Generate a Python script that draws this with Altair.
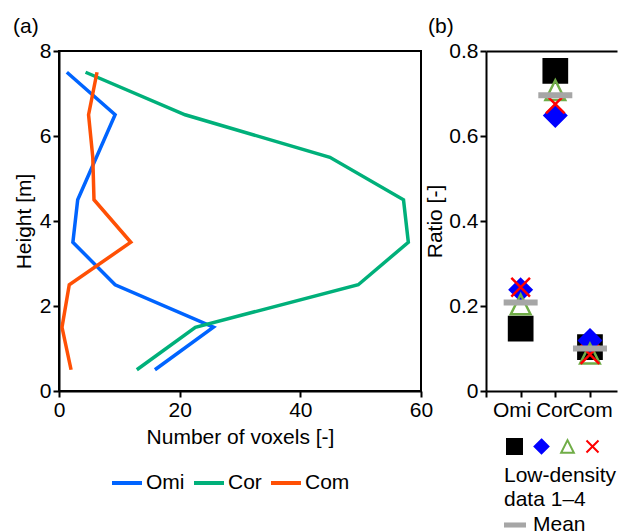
import altair as alt
import pandas as pd

# ---------------- panel (a): vertical profiles ----------------
heights = [0.5, 1.5, 2.5, 3.5, 4.5, 5.5, 6.5, 7.5]
omi_voxels = [15.9, 25.6, 9.3, 2.3, 3.1, 6.2, 9.3, 1.3]
cor_voxels = [12.9, 22.6, 49.6, 57.9, 57.1, 44.9, 20.9, 4.4]
com_voxels = [2.0, 0.5, 1.7, 11.9, 5.8, 5.6, 4.9, 6.3]
series_names = ["Omi", "Cor", "Com"]
series_colors = ["#0064FF", "#00B07A", "#FF5005"]

# ---------------- panel (b): ratios ----------------
categories = ["Omi", "Cor", "Com"]
category_label_shift = [-9, -3, 0]
data1 = [0.147, 0.753, 0.103]
data2 = [0.238, 0.648, 0.119]
data3 = [0.204, 0.708, 0.088]
data4 = [0.244, 0.675, 0.086]
mean_ratio = [0.208, 0.696, 0.100]
set_names = ["1", "2", "3", "4"]
set_shapes = [
    "M-1.06,-1.06H1.06V1.06H-1.06Z",
    "M0,-0.98L0.98,0L0,0.98L-0.98,0Z",
    "M0,-0.9L0.9,0.9L-0.9,0.9Z",
    "M-0.85,-0.85L0.85,0.85M0.85,-0.85L-0.85,0.85",
]
set_fills = ["black", "blue", "transparent", "transparent"]
set_strokes = ["black", "blue", "#70AD47", "red"]
mean_color = "#A6A6A6"
ratio_max = 0.8
pos_max = 3.78

rows = []
for name, vals in zip(series_names, [omi_voxels, cor_voxels, com_voxels]):
    for h, v in zip(heights, vals):
        rows.append({"series": name, "height": h, "voxels": v})
df_a = pd.DataFrame(rows)

rows_b = []
for s, vals in zip(set_names, [data1, data2, data3, data4]):
    for i, (c, v) in enumerate(zip(categories, vals)):
        rows_b.append({"set": s, "cat": c, "pos": i + 1, "ratio": v})
df_b = pd.DataFrame(rows_b)
df_m = pd.DataFrame({"cat": categories,
                     "pos": [i + 1 for i in range(len(categories))],
                     "ratio": mean_ratio,
                     "stat": ["Mean"] * len(categories)})

cat_expr = "".join(f"datum.value=={i + 1}?'{c}':" for i, c in enumerate(categories)) + "''"
shift_expr = "".join(
    f"datum.value=={i + 1}?{d}:" for i, d in enumerate(category_label_shift)
) + "0"

# ---- panel a
line = alt.Chart(df_a).mark_line(strokeWidth=3.5).encode(
    x=alt.X("voxels:Q", scale=alt.Scale(domain=[0, 60], nice=False),
            axis=alt.Axis(values=[0, 20, 40, 60], title="Number of voxels [-]",
                          titlePadding=6, labelPadding=2, labelFlush=False)),
    y=alt.Y("height:Q", scale=alt.Scale(domain=[0, 8], nice=False),
            axis=alt.Axis(values=[0, 2, 4, 6, 8], title="Height [m]",
                          titleX=-29, titleY=170, titleBaseline="alphabetic",
                          labelPadding=2, labelFlush=False)),
    color=alt.Color("series:N",
                    scale=alt.Scale(domain=series_names, range=series_colors),
                    legend=alt.Legend(orient="none", legendX=51, legendY=415,
                                      direction="horizontal", title=None,
                                      symbolType="stroke", symbolSize=900,
                                      symbolStrokeWidth=4, labelOffset=2,
                                      columnPadding={"expr": "1"},
                                      gridAlign="none", padding=0)),
    order=alt.Order("height:Q"),
)
panel_a = line.properties(
    width=362, height=340,
    title=alt.TitleParams("(a)", anchor="start", offset=3, dx=0),
    view=alt.ViewBackground(stroke="black", strokeWidth=2),
)

# ---- panel b
xscale_b = alt.Scale(domain=[0, pos_max], nice=False, zero=False, padding=0)
yscale_b = alt.Scale(domain=[0, ratio_max], nice=False, zero=False, padding=0)
legend_b = alt.Legend(orient="none", legendX=18, legendY=385,
                      direction="horizontal",
                      title=["Low-density", "data 1\u20134"],
                      titleOrient="bottom", titleAnchor="start", titleAlign="left",
                      titlePadding=7, titleLineHeight=24,
                      labelExpr="''", labelOffset=0, columnPadding=4,
                      gridAlign="none",
                      symbolSize=200, symbolStrokeWidth=2, padding=0)
xb = alt.X("pos:Q", scale=xscale_b,
           axis=alt.Axis(values=[0, 1, 2, 3], labelExpr=cat_expr, title=None,
                         labelPadding=2, labelOverlap=False, labelFlush=False,
                         labelOffset={"expr": shift_expr}))
yb = alt.Y("ratio:Q", scale=yscale_b,
           axis=alt.Axis(values=[0, 0.2, 0.4, 0.6, 0.8],
                         labelExpr="datum.value==0?'0':format(datum.value,'.1f')",
                         title="Ratio [-]", titleX=-45, titleY=170,
                         titleBaseline="alphabetic", labelPadding=2))
pts = alt.Chart(df_b).mark_point(size=480, strokeWidth=2.5, opacity=1).encode(
    x=xb, y=yb,
    shape=alt.Shape("set:N", scale=alt.Scale(domain=set_names, range=set_shapes), legend=legend_b),
    fill=alt.Fill("set:N", scale=alt.Scale(domain=set_names, range=set_fills), legend=legend_b),
    stroke=alt.Stroke("set:N", scale=alt.Scale(domain=set_names, range=set_strokes), legend=legend_b),
)
mean_t = alt.Chart(df_m).mark_tick(orient="horizontal", size=34, thickness=6, opacity=1).encode(
    x=alt.X("pos:Q", scale=xscale_b,
            axis=alt.Axis(orient="top", labels=False, ticks=False, title=None, domain=True)),
    y=alt.Y("ratio:Q", scale=yscale_b),
    color=alt.Color("stat:N", scale=alt.Scale(domain=["Mean"], range=[mean_color]),
                    legend=alt.Legend(orient="none", legendX=18, legendY=463, title=None,
                                      symbolType="M-1,-0.23H1V0.23H-1Z", symbolSize=484,
                                      symbolStrokeWidth=0, labelOffset=7, padding=0)),
)
panel_b = alt.layer(pts, mean_t).resolve_axis(x="independent").properties(
    width=131, height=340,
    title=alt.TitleParams("(b)", anchor="start", offset=3, dx=4),
    view=alt.ViewBackground(stroke="transparent"),
)

chart = alt.hconcat(panel_a, panel_b, spacing=-11).resolve_scale(
    color="independent", shape="independent", fill="independent", stroke="independent"
).resolve_legend(
    color="independent", shape="independent", fill="independent", stroke="independent"
).properties(
    autosize=alt.AutoSizeParams(type="none"),
    padding={"left": 59, "top": 51, "right": 562, "bottom": 480},
).configure(font="Liberation Sans").configure_axis(
    grid=False, labelFontSize=21, titleFontSize=21, titleFontWeight="normal",
    labelColor="black", titleColor="black", domainColor="black", tickColor="black",
    domainWidth=2, tickWidth=2, tickSize=6,
).configure_legend(
    labelFontSize=21, titleFontSize=21, titleFontWeight="normal",
    labelColor="black", titleColor="black",
).configure_title(
    fontSize=21, fontWeight="normal", color="black", anchor="start",
)

chart.save("out.html", embed_options={"renderer": "svg", "actions": False})
